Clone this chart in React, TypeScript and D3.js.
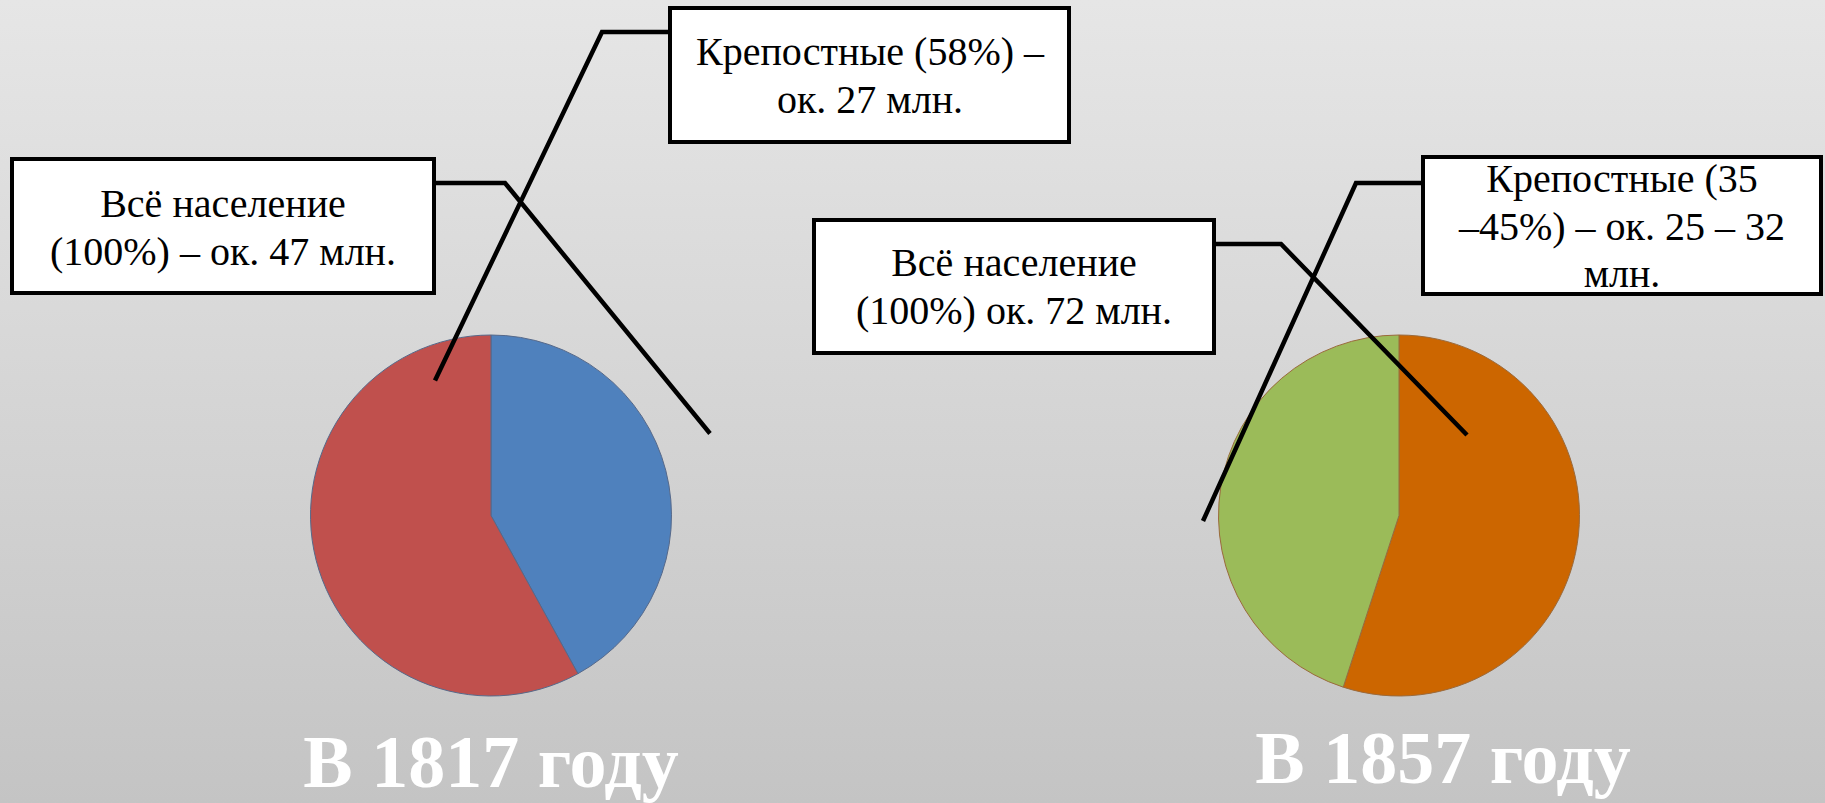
import React from "react";
import * as d3 from "d3";

// ---- data ----
const years = ["В 1817 году", "В 1857 году"];
const slices1817Labels = ["Прочие", "Крепостные"];
const slices1817Values = [42, 58];
const slices1857Labels = ["Прочие", "Крепостные"];
const slices1857Values = [55, 45];
const labels1817 = [
  ["Крепостные (58%) –", "ок. 27 млн."],
  ["Всё население", "(100%) – ок. 47 млн."],
];
const labels1857 = [
  ["Всё население", "(100%) ок. 72 млн."],
  ["Крепостные (35", "–45%) – ок. 25 – 32", "млн."],
];

// ---- layout / style ----
const W = 1825;
const H = 803;
const R = 180.5;
const FONT = "'Liberation Serif', 'Times New Roman', 'DejaVu Serif', serif";

const charts = [
  {
    cx: 491,
    cy: 515.5,
    values: slices1817Values,
    names: slices1817Labels,
    colors: ["#4F81BD", "#C0504D"],
    stroke: "#56698a",
    title: years[0],
    titleX: 491,
    titleY: 787,
    boxes: [
      { x: 670, y: 8, w: 399, h: 134, lines: labels1817[0], cx: 870, baselines: [65, 113] },
      { x: 12, y: 159, w: 422, h: 134, lines: labels1817[1], cx: 223, baselines: [217, 265] },
    ],
    leaders: [
      { pts: [[668, 32], [602, 32], [-56, -135]] },
      { pts: [[436, 183], [505, 183], [219, -82]] },
    ],
  },
  {
    cx: 1399,
    cy: 515.5,
    values: slices1857Values,
    names: slices1857Labels,
    colors: ["#CC6600", "#9BBB59"],
    stroke: "#9a6a3c",
    title: years[1],
    titleX: 1443,
    titleY: 783,
    boxes: [
      { x: 814, y: 220, w: 400, h: 133, lines: labels1857[0], cx: 1014, baselines: [276, 324] },
      { x: 1423, y: 157, w: 398, h: 137, lines: labels1857[1], cx: 1622, baselines: [192, 239.5, 287] },
    ],
    leaders: [
      { pts: [[1216, 244], [1281, 244], [68, -80.5]] },
      { pts: [[1421, 183], [1356, 183], [-196, 5.5]] },
    ],
  },
];

const pie = d3.pie<number>().sort(null).value((d) => d);
const arc = d3.arc<d3.PieArcDatum<number>>().innerRadius(0).outerRadius(R);
const line = d3.line();

export default function App() {
  return (
    <svg
      width={W}
      height={H}
      viewBox={`0 0 ${W} ${H}`}
      style={{ position: "absolute", left: 0, top: 0, display: "block" }}
    >
      <defs>
        <linearGradient id="bg" x1="0" y1="0" x2="0" y2="1">
          <stop offset="0" stopColor="#e6e6e6" />
          <stop offset="1" stopColor="#c4c4c4" />
        </linearGradient>
      </defs>
      <rect x={0} y={0} width={W} height={H} fill="url(#bg)" />

      {charts.map((c, ci) => (
        <g key={"pie" + ci} transform={`translate(${c.cx},${c.cy})`}>
          {pie(c.values).map((d, i) => (
            <path
              key={c.names[i]}
              d={arc(d) || ""}
              fill={c.colors[i]}
              stroke={c.stroke}
              strokeWidth={1}
            />
          ))}
        </g>
      ))}

      {charts.map((c, ci) => (
        <g key={"boxes" + ci}>
          {c.boxes.map((b, bi) => (
            <g key={bi}>
              <rect x={b.x} y={b.y} width={b.w} height={b.h} fill="#ffffff" stroke="#000" strokeWidth={4} />
              {b.lines.map((t, li) => (
                <text
                  key={li}
                  x={b.cx}
                  y={b.baselines[li]}
                  textAnchor="middle"
                  fontFamily={FONT}
                  fontSize={40}
                  fill="#000"
                >
                  {t}
                </text>
              ))}
            </g>
          ))}
        </g>
      ))}

      {charts.map((c, ci) => (
        <g key={"lead" + ci}>
          {c.leaders.map((l, li) => {
            const pts = l.pts.map((p, pi) =>
              pi === 2 ? ([c.cx + p[0], c.cy + p[1]] as [number, number]) : (p as [number, number])
            );
            return (
              <path
                key={li}
                d={line(pts) || ""}
                fill="none"
                stroke="#000"
                strokeWidth={4.5}
                strokeLinejoin="miter"
              />
            );
          })}
        </g>
      ))}

      {charts.map((c, ci) => (
        <text
          key={"title" + ci}
          x={c.titleX}
          y={c.titleY}
          textAnchor="middle"
          fontFamily={FONT}
          fontWeight="bold"
          fontSize={74}
          fill="#ffffff"
        >
          {c.title}
        </text>
      ))}
    </svg>
  );
}
